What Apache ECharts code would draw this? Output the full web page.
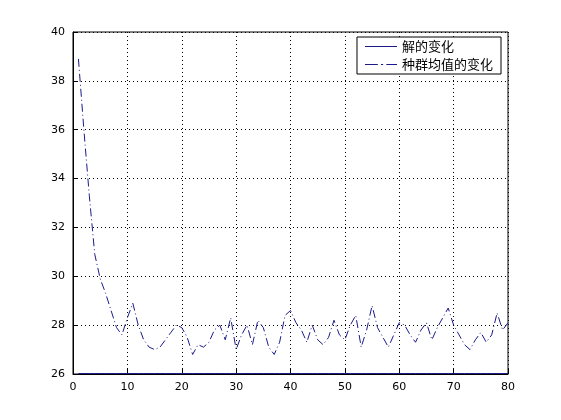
<!DOCTYPE html><html><head><meta charset="utf-8"><script src="https://cdn.jsdelivr.net/npm/echarts@6/dist/echarts.min.js"></script></head><body style="margin:0;background:#fff"><div id="c" style="width:561px;height:420px"></div><script>
const gens=[];for(let i=1;i<=80;i++)gens.push(i);
const best=Array(80).fill(26.02);
const mean=[38.9,36.0,33.3,30.9,29.9,29.3,28.6,27.9,27.6,28.3,28.9,28.0,27.4,27.1,27.0,27.1,27.4,27.7,28.0,27.9,27.5,26.8,27.2,27.1,27.3,27.8,28.0,27.4,28.3,27.0,27.6,28.0,27.2,28.2,27.9,27.1,26.8,27.3,28.4,28.6,28.1,27.8,27.3,28.0,27.4,27.2,27.5,28.2,27.6,27.4,28.0,28.4,27.1,27.8,28.8,27.9,27.5,27.1,27.6,28.1,28.0,27.6,27.3,27.8,28.1,27.4,27.9,28.3,28.7,28.0,27.6,27.2,27.0,27.4,27.7,27.3,27.6,28.5,27.8,28.1];
const ch=echarts.init(document.getElementById('c'));
const ax={color:'#000',fontFamily:'DejaVu Sans',fontSize:11};
ch.setOption({animation:false,
grid:{left:73,right:53,top:32,bottom:46,show:true,borderColor:'#000',borderWidth:1},
legend:{top:37,right:60,orient:'vertical',itemGap:5,backgroundColor:'#fff',borderColor:'#000',borderWidth:1,padding:[3,8],itemWidth:32,textStyle:{fontFamily:'Noto Sans CJK SC',fontSize:13,color:'#000'},data:[{name:'解的变化',icon:'path://M0,0H30V1H0Z'},{name:'种群均值的变化',icon:'path://M0,0H12V1H0ZM15,0H17V1H15ZM20,0H30V1H20Z'}]},
xAxis:{type:'value',min:0,max:80,interval:10,axisLine:{lineStyle:{color:'#000'}},axisTick:{inside:true,lineStyle:{color:'#000'}},axisLabel:ax,splitLine:{lineStyle:{color:'#000',type:[1,3]}}},
yAxis:{type:'value',min:26,max:40,interval:2,axisLine:{lineStyle:{color:'#000'}},axisTick:{inside:true,lineStyle:{color:'#000'}},axisLabel:ax,splitLine:{lineStyle:{color:'#000',type:[1,3]}}},
series:[{name:'解的变化',type:'line',symbol:'none',data:gens.map((g,i)=>[g,best[i]]),lineStyle:{color:'#1a1a8a',width:1},itemStyle:{color:'#1a1a8a'}},
{name:'种群均值的变化',type:'line',symbol:'none',data:gens.map((g,i)=>[g,mean[i]]),lineStyle:{color:'#1a1a8a',width:1,type:[8,3,1,3]},itemStyle:{color:'#1a1a8a'}}]});
</script></body></html>
